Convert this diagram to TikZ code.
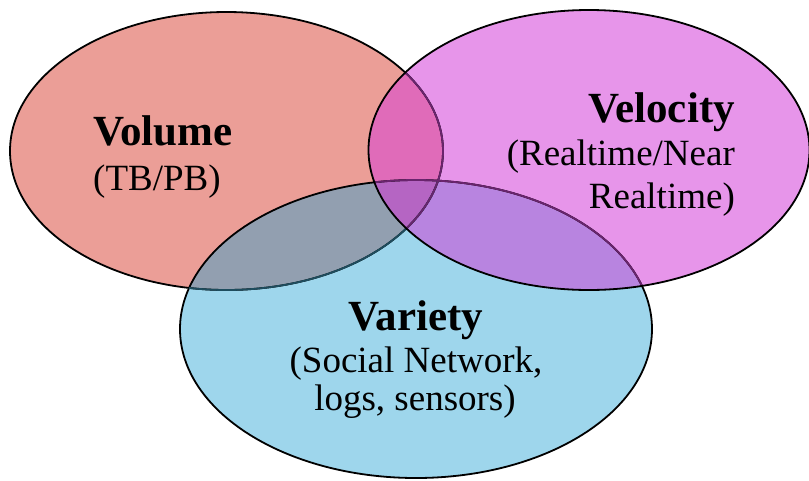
\documentclass[tikz,border=0pt]{standalone}
\usepackage{fontspec}
\setmainfont{Liberation Serif}
\definecolor{volc}{HTML}{EB9E97}
\definecolor{velc}{HTML}{E795EA}
\definecolor{varc}{HTML}{9ED6EC}
\definecolor{volvar}{HTML}{929FB0}
\definecolor{velvar}{HTML}{B884E0}
\definecolor{volvel}{HTML}{E06BB9}
\definecolor{triple}{HTML}{B565C3}
\definecolor{rimpurple}{HTML}{6A246E}
\definecolor{rimteal}{HTML}{1E4D5E}
\begin{document}
\begin{tikzpicture}[x=1pt,y=-1pt,
  title/.style={font=\fontsize{43}{43}\selectfont\bfseries, inner sep=0pt},
  sub/.style={font=\fontsize{37}{37}\selectfont, inner sep=0pt},
  rim/.style={line width=1.8pt}]
\useasboundingbox (0,0) rectangle (809,480);
\def\VOL{(226.5,151) ellipse [x radius=216.5pt, y radius=139pt]}
\def\VEL{(589,150) ellipse [x radius=220.5pt, y radius=140pt]}
\def\VAR{(416,329) ellipse [x radius=236pt, y radius=149pt]}
% base fills
\fill[volc] \VOL;
\fill[velc] \VEL;
\fill[varc] \VAR;
% overlaps
\begin{scope}\clip \VOL; \fill[volvel] \VEL; \end{scope}
\begin{scope}\clip \VOL; \fill[volvar] \VAR; \end{scope}
\begin{scope}\clip \VEL; \fill[velvar] \VAR; \end{scope}
\begin{scope}\clip \VOL; \clip \VEL; \fill[triple] \VAR; \end{scope}
% outlines
\draw[rim, black] \VOL;
\draw[rim, black] \VAR;
\begin{scope}\clip \VAR; \draw[rim, rimteal] \VOL; \end{scope}
\begin{scope}\clip \VEL; \draw[rim, rimpurple] \VOL; \draw[rim, rimpurple] \VAR; \end{scope}
\draw[rim, black] \VEL;
% labels
\node[title, anchor=base west] (voltitle) at (93,145) {Volume};
\node[sub, anchor=base west] (volsub) at (93,190) {(TB/PB)};
\node[title, anchor=base east] (veltitle) at (735,122) {Velocity};
\node[sub, anchor=base east] (velsub1) at (735,165) {(Realtime/Near};
\node[sub, anchor=base east] (velsub2) at (735,208) {Realtime)};
\node[title, anchor=base] (vartitle) at (416,330) {Variety};
\node[sub, anchor=base] (varsub1) at (416,372) {(Social Network,};
\node[sub, anchor=base] (varsub2) at (415,410) {logs, sensors)};
\end{tikzpicture}
\end{document}
